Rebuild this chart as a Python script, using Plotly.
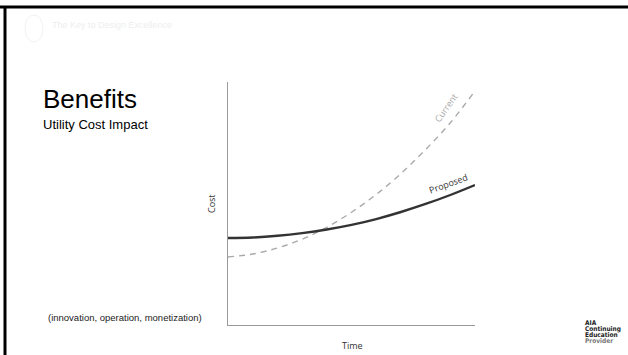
import plotly.graph_objects as go

# Data (unitless time/cost)
time = [0, 1, 2, 3, 4, 5, 6, 7, 8, 9, 10]
current = [2.80, 2.92, 3.17, 3.53, 4.02, 4.64, 5.37, 6.23, 7.22, 8.32, 9.63]
proposed = [3.58, 3.60, 3.67, 3.78, 3.93, 4.12, 4.36, 4.65, 4.98, 5.35, 5.76]

W, H = 628, 355
fig = go.Figure()

fig.add_trace(go.Scatter(x=time, y=current, mode="lines", line_shape="spline",
                         line=dict(color="#aaaaaa", width=1.4, dash="6px,5px"),
                         hoverinfo="skip", showlegend=False))
fig.add_trace(go.Scatter(x=time, y=proposed, mode="lines", line_shape="spline",
                         line=dict(color="#333333", width=2.4),
                         hoverinfo="skip", showlegend=False))

ax_common = dict(showgrid=False, zeroline=False, showticklabels=False, ticks="",
                 showline=True, linecolor="#9a9a9a", linewidth=1, fixedrange=True)
fig.update_layout(
    width=W, height=H, margin=dict(l=0, r=0, t=0, b=0),
    paper_bgcolor="white", plot_bgcolor="white",
    xaxis=dict(range=[0, 10], domain=[228/W, 475/W], **ax_common),
    yaxis=dict(range=[0, 10], domain=[(H-325)/H, (H-82)/H], **ax_common),
)

# Bar showing initial cost difference
fig.add_shape(type="rect", xref="x", yref="y", xsizemode="pixel", xanchor=0,
              x0=-9, x1=-4, y0=current[0], y1=proposed[0],
              fillcolor="#333333", line=dict(color="#333333", width=0))

# Slide border (top & left)
fig.add_shape(type="line", xref="paper", yref="paper", x0=0, x1=1, y0=1-7/H, y1=1-7/H,
              line=dict(color="black", width=3))
fig.add_shape(type="line", xref="paper", yref="paper", x0=5/W, x1=5/W, y0=0, y1=1-6/H,
              line=dict(color="black", width=3))

lab_font = "Open Sans, DejaVu Sans, sans-serif"
fig.add_annotation(x=time[9], y=current[9], xref="x", yref="y", text="Current",
                   showarrow=False, textangle=-55, xshift=-4, yshift=15,
                   xanchor="center", yanchor="middle",
                   font=dict(family=lab_font, size=9, color="#aaaaaa"))
fig.add_annotation(x=time[9], y=proposed[9], xref="x", yref="y", text="Proposed",
                   showarrow=False, textangle=-20, xshift=-2, yshift=12,
                   xanchor="center", yanchor="middle",
                   font=dict(family=lab_font, size=9, color="#333333"))

# Axis titles
fig.add_annotation(x=211/W, y=1-204/H, xref="paper", yref="paper", text="Cost",
                   showarrow=False, textangle=-90, xanchor="center", yanchor="middle",
                   font=dict(family=lab_font, size=9, color="#333333"))
fig.add_annotation(x=352/W, y=1-345/H, xref="paper", yref="paper", text="Time",
                   showarrow=False, xanchor="center", yanchor="middle",
                   font=dict(family=lab_font, size=9, color="#333333"))

# Slide texts
arial = "Liberation Sans, Arial, sans-serif"
fig.add_annotation(x=41/W, y=1-99/H, xref="paper", yref="paper", xanchor="left", yanchor="middle",
                   text="Benefits", showarrow=False, font=dict(family=arial, size=26, color="black"))
fig.add_annotation(x=41/W, y=1-125/H, xref="paper", yref="paper", xanchor="left", yanchor="middle",
                   text="Utility Cost Impact", showarrow=False, font=dict(family=arial, size=13, color="black"))
fig.add_annotation(x=46/W, y=1-317/H, xref="paper", yref="paper", xanchor="left", yanchor="middle",
                   text="(innovation, operation, monetization)", showarrow=False,
                   font=dict(family=arial, size=9.5, color="#222222"))
fig.add_annotation(x=50/W, y=1-25/H, xref="paper", yref="paper", xanchor="left", yanchor="middle",
                   text="The Key to Design Excellence", showarrow=False,
                   font=dict(family=arial, size=9, color="#eeeeee"))
fig.add_shape(type="circle", xref="paper", yref="paper", x0=25/W, x1=43/W, y0=1-42/H, y1=1-15/H,
              line=dict(color="#f2f2f2", width=1))

# AIA logo text
logo = [("AIA", 323, "#222222"), ("Continuing", 329, "#222222"),
        ("Education", 335, "#222222"), ("Provider", 341, "#777777")]
for t, yy, c in logo:
    fig.add_annotation(x=583/W, y=1-yy/H, xref="paper", yref="paper", xanchor="left", yanchor="middle",
                       text="<b>" + t + "</b>", showarrow=False,
                       font=dict(family="DejaVu Sans Condensed, Liberation Sans Narrow, sans-serif", size=6.5, color=c))

fig.write_html("out.html", config={"displayModeBar": False},
               post_script="document.body.style.margin='0';document.body.style.overflow='hidden';")
